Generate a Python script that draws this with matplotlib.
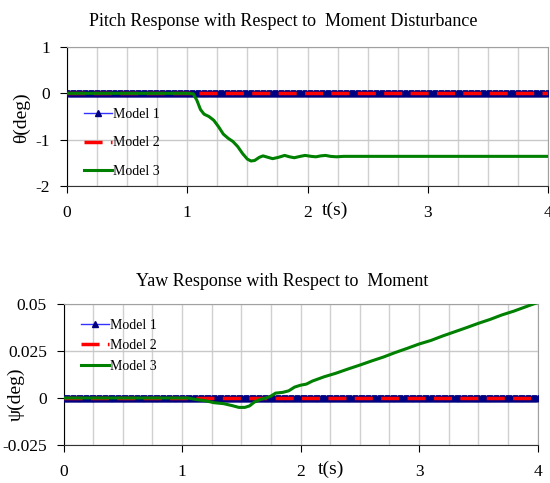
import numpy as np
import matplotlib.pyplot as plt

plt.rcParams['font.family'] = ['Liberation Serif', 'DejaVu Serif']

c_m1 = "#3333ff"
c_m1_mark = "#000080"
c_m2 = "#ff0000"
c_m3 = "#008000"

# simulation time grid (s) for the reference models
t_grid = np.arange(0, 4.0001, 0.01)
model1_val = np.zeros(len(t_grid))
model2_val = np.zeros(len(t_grid))

# pitch response, model 3
pitch_t = [0, 1.0, 1.05, 1.08, 1.11, 1.14, 1.18, 1.22, 1.26, 1.30, 1.34, 1.38,
           1.42, 1.46, 1.50, 1.53, 1.56, 1.60, 1.63, 1.67, 1.71, 1.76, 1.81,
           1.85, 1.89, 1.94, 1.98, 2.03, 2.07, 2.11, 2.15, 2.19, 2.24, 2.30, 4.0]
pitch_m3 = [0, 0, -0.01, -0.15, -0.35, -0.45, -0.5, -0.58, -0.72, -0.88, -0.97,
            -1.04, -1.15, -1.3, -1.42, -1.46, -1.45, -1.38, -1.35, -1.38, -1.41,
            -1.38, -1.34, -1.37, -1.39, -1.36, -1.34, -1.36, -1.37, -1.35, -1.34,
            -1.36, -1.37, -1.36, -1.36]

# yaw response, model 3
yaw_t = [0, 1.05, 1.12, 1.2, 1.27, 1.35, 1.42, 1.48, 1.53, 1.57, 1.61, 1.66,
         1.71, 1.75, 1.79, 1.85, 1.9, 1.95, 2.0, 2.05, 2.1, 2.2, 2.3, 2.4, 2.5,
         2.6, 2.7, 2.8, 2.9, 3.0, 3.1, 3.2, 3.3, 3.4, 3.5, 3.6, 3.7, 3.8, 3.9, 4.0]
yaw_m3 = [0, 0, -0.0008, -0.0015, -0.0025, -0.003, -0.004, -0.005, -0.005,
          -0.0042, -0.0022, -0.0008, 0.0, 0.001, 0.0026, 0.003, 0.0038, 0.0058,
          0.0068, 0.0074, 0.009, 0.0113, 0.0132, 0.0154, 0.0175, 0.0197, 0.0218,
          0.0242, 0.0264, 0.0287, 0.0306, 0.033, 0.0352, 0.0374, 0.0397, 0.0418,
          0.0442, 0.0462, 0.0485, 0.0508]

labels = ["Model 1", "Model 2", "Model 3"]


def draw_panel(ax, t3, y3, ylim, yticks, yticklabels, ylab, leg_y, leg_space):
    ax.plot(t_grid, model1_val, color=c_m1, lw=1, marker="^", ms=4,
            mfc=c_m1_mark, mec=c_m1_mark, label=labels[0], zorder=3)
    ax.plot(t_grid, model2_val, color=c_m2, lw=2.5, dashes=(5.2, 2.4),
            label=labels[1], zorder=4)
    ax.plot(t3, y3, color=c_m3, lw=2.2, label=labels[2], zorder=5)
    ax.set_xlim(0, 4)
    ax.set_ylim(*ylim)
    ax.set_xticks([0, 1, 2, 3, 4])
    ax.set_xticks(np.arange(0, 4.01, 0.25), minor=True)
    ax.set_yticks(yticks)
    ax.set_yticklabels(yticklabels)
    ax.grid(True, which="both", axis="x", color="#d0d0d0", lw=1)
    ax.grid(True, which="major", axis="y", color="#c8c8c8", lw=1)
    ax.tick_params(axis="x", which="major", direction="out", length=5,
                   pad=9, labelsize=12.5)
    ax.tick_params(axis="x", which="minor", length=0)
    ax.tick_params(axis="y", direction="out", length=5, pad=7, labelsize=12.5)
    ax.spines["top"].set_color("#a0a0a0")
    ax.spines["right"].set_color("#a0a0a0")
    ax.spines["left"].set_color("black")
    ax.spines["bottom"].set_color("#333333")
    ax.set_ylabel(ylab, fontsize=14)
    ax.set_xlabel("t(s)", fontsize=14)
    ax.legend(loc="upper left", bbox_to_anchor=(0.01, leg_y),
              frameon=False, fontsize=10, handlelength=2.0,
              handletextpad=0.1, labelspacing=leg_space)


fig = plt.figure(figsize=(5.5, 4.83), dpi=100)

ax1 = fig.add_axes([67 / 550, 1 - 186 / 483, 481 / 550, 139 / 483])
draw_panel(ax1, pitch_t, pitch_m3, (-2, 1), [-2, -1, 0, 1],
           ["-2", "-1", "0", "1"], "θ(deg)", 0.65, 1.1)
ax1.yaxis.set_label_coords(-0.077, 0.49)
ax1.xaxis.set_label_coords(0.557, -0.115)

ax2 = fig.add_axes([63.5 / 550, 1 - 445 / 483, 474 / 550, 141 / 483])
draw_panel(ax2, yaw_t, yaw_m3, (-0.025, 0.05), [-0.025, 0, 0.025, 0.05],
           ["-0.025", "0", "0.025", "0.05"], "ψ(deg)", 0.985, 0.55)
ax2.yaxis.set_label_coords(-0.081, 0.36)
ax2.xaxis.set_label_coords(0.564, -0.113)

fig.text(283 / 550, 1 - 21 / 483, "Pitch Response with Respect to  Moment Disturbance",
         ha="center", va="center", fontsize=13)
fig.text(282 / 550, 1 - 282 / 483, "Yaw Response with Respect to  Moment",
         ha="center", va="center", fontsize=13)

fig.savefig("out.png", dpi=100)
